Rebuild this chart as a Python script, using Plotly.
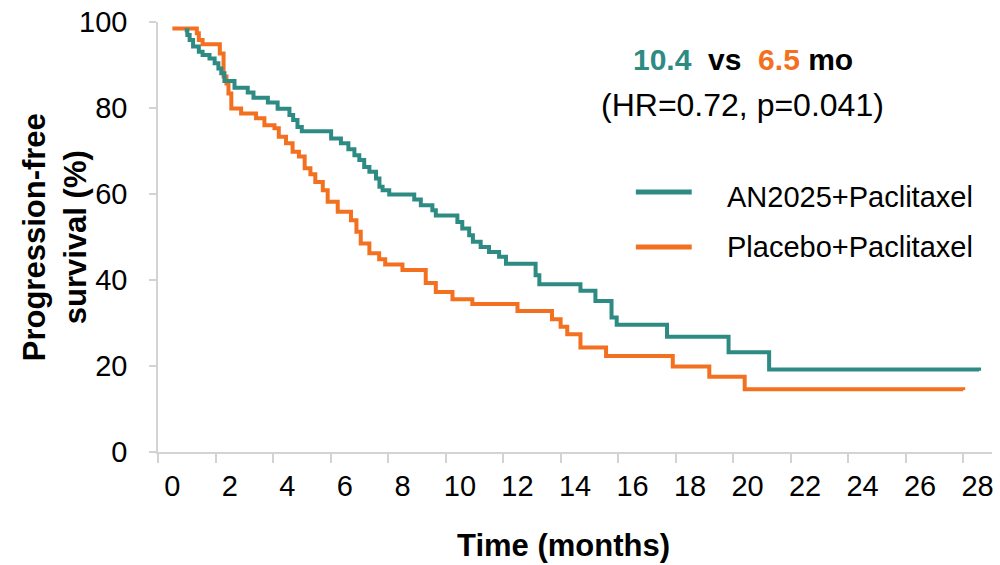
import plotly.graph_objects as go

# ---- data ----
teal_time = [0.43, 0.52, 0.60, 0.72, 0.92, 1.05, 1.29, 1.47, 1.60, 1.70, 1.81, 2.16, 2.62, 2.82,
             3.32, 3.66, 4.07, 4.20, 4.35, 4.50, 5.52, 5.86, 6.12, 6.33, 6.50, 6.67, 6.85, 7.08,
             7.20, 7.31, 7.54, 8.41, 8.64, 9.04, 9.16, 9.91, 10.08, 10.32, 10.45, 10.72, 11.01,
             11.36, 11.60, 12.63, 12.76, 14.19, 14.71, 15.27, 15.45, 17.20, 19.34, 20.75, 28.05]
teal_pfs = [98.1, 97.0, 95.8, 94.3, 93.1, 92.3, 91.5, 90.4, 89.2, 88.1, 86.3, 84.7, 83.6, 82.4,
            81.3, 79.8, 78.4, 77.2, 75.6, 74.6, 72.9, 71.8, 70.4, 69.0, 67.9, 66.3, 65.2, 63.6,
            61.7, 60.9, 59.9, 58.7, 57.4, 56.2, 55.0, 53.5, 52.0, 50.4, 48.9, 47.7, 46.5,
            45.4, 43.8, 41.1, 39.0, 37.5, 35.1, 31.3, 29.6, 26.8, 23.2, 19.2, 18.9]

orange_time = [0.0, 0.85, 0.92, 1.05, 1.65, 1.78, 1.88, 1.95, 2.05, 2.39, 2.91, 3.20, 3.55, 3.70,
               3.95, 4.18, 4.40, 4.60, 4.80, 4.97, 5.23, 5.40, 5.75, 6.21, 6.40, 6.55, 6.85, 7.19,
               7.40, 8.00, 8.81, 9.16, 9.74, 10.43, 12.00, 13.20, 13.50, 13.73, 14.19, 15.08,
               17.40, 18.67, 19.90, 27.50]
orange_pfs = [98.5, 97.4, 95.8, 94.8, 92.7, 87.3, 85.7, 83.4, 79.9, 78.7, 77.6, 76.0, 75.3, 73.3,
              71.8, 69.8, 68.7, 66.0, 64.6, 62.8, 60.9, 58.2, 55.9, 53.9, 51.2, 48.5, 46.2, 44.8,
              43.6, 42.3, 39.3, 37.2, 35.5, 34.4, 32.8, 30.9, 29.1, 27.4, 24.3, 22.3,
              19.9, 17.5, 14.6, 14.4]

series_names = ["AN2025+Paclitaxel", "Placebo+Paclitaxel"]
x_tick_vals = list(range(0, 29, 2))
x_tick_marks = [v - 0.5 for v in range(0, 29, 2)]
y_tick_vals = [0, 20, 40, 60, 80, 100]

TEAL = "#2E8B84"
ORANGE = "#F37021"
AXIS = "#D3D3D3"
FONT = "Liberation Sans, Arial, sans-serif"

fig = go.Figure()
fig.add_trace(go.Scatter(x=orange_time, y=orange_pfs, mode="lines", line_shape="hv",
                         line=dict(color=ORANGE, width=4), name=series_names[1],
                         showlegend=False, hoverinfo="skip"))
fig.add_trace(go.Scatter(x=teal_time, y=teal_pfs, mode="lines", line_shape="hv",
                         line=dict(color=TEAL, width=4), name=series_names[0],
                         showlegend=False, hoverinfo="skip"))

# plot area in pixels: x 158..994, y 22..452
PL, PR, PT, PB = 158, 994, 22, 452
W, H = PR - PL, PB - PT

def px(xp):
    return (xp - PL) / W

def py(yp):
    return (PB - yp) / H

annotations = [
    dict(text=f"<b><span style='color:{TEAL}'>10.4</span>  vs  <span style='color:{ORANGE}'>6.5</span> mo</b>",
         x=px(744), y=py(59.5), xref="paper", yref="paper", showarrow=False,
         xanchor="center", yanchor="middle", font=dict(size=30, color="#000000", family=FONT)),
    dict(text="(HR=0.72, p=0.041)",
         x=px(744), y=py(104.5), xref="paper", yref="paper", showarrow=False,
         xanchor="center", yanchor="middle", font=dict(size=32, color="#000000", family=FONT)),
    dict(text=series_names[0], x=px(726), y=py(197), xref="paper", yref="paper",
         showarrow=False, xanchor="left", yanchor="middle",
         font=dict(size=29, color="#000000", family=FONT)),
    dict(text=series_names[1], x=px(726), y=py(246.5), xref="paper", yref="paper",
         showarrow=False, xanchor="left", yanchor="middle",
         font=dict(size=29, color="#000000", family=FONT)),
    dict(text="<b>Time (months)</b>", x=px(564.5), y=py(545), xref="paper", yref="paper",
         showarrow=False, xanchor="center", yanchor="middle",
         font=dict(size=31, color="#000000", family=FONT)),
    dict(text="<b>Progression-free<br>survival (%)</b>", x=px(54), y=py(237), xref="paper",
         yref="paper", showarrow=False, xanchor="center", yanchor="middle", textangle=-90,
         font=dict(size=31, color="#000000", family=FONT)),
]

shapes = [
    dict(type="line", xref="paper", yref="paper", x0=px(637), x1=px(693), y0=py(192), y1=py(192),
         line=dict(color=TEAL, width=5)),
    dict(type="line", xref="paper", yref="paper", x0=px(637), x1=px(693), y0=py(247), y1=py(247),
         line=dict(color=ORANGE, width=5)),
]

fig.update_layout(
    width=1000, height=565,
    margin=dict(l=PL, r=1000 - PR, t=PT, b=565 - PB),
    paper_bgcolor="white", plot_bgcolor="white",
    font=dict(family=FONT, size=29, color="#000000"),
    showlegend=False,
    annotations=annotations,
    shapes=shapes,
    xaxis=dict(range=[-0.5, 28.5], tickmode="array", tickvals=x_tick_vals,
               ticktext=[str(v) for v in x_tick_vals], ticks="", showgrid=False, zeroline=False,
               showline=True, linecolor=AXIS, linewidth=1.5,
               tickfont=dict(size=29, color="#000000", family=FONT),
               ticklabelstandoff=7,
               minor=dict(tickmode="array", tickvals=x_tick_marks, ticks="outside", ticklen=9,
                          tickcolor=AXIS, tickwidth=1.5, showgrid=False)),
    yaxis=dict(range=[0, 100], tickmode="array", tickvals=y_tick_vals, ticks="outside",
               ticklen=7, tickcolor=AXIS, tickwidth=1.5, showgrid=False, zeroline=False,
               showline=True, linecolor=AXIS, linewidth=1.5,
               tickfont=dict(size=29, color="#000000", family=FONT),
               ticklabelstandoff=16),
)

fig.write_html("out.html", config={"displayModeBar": False},
               post_script="document.body.style.margin='0';document.body.style.overflow='hidden';")
